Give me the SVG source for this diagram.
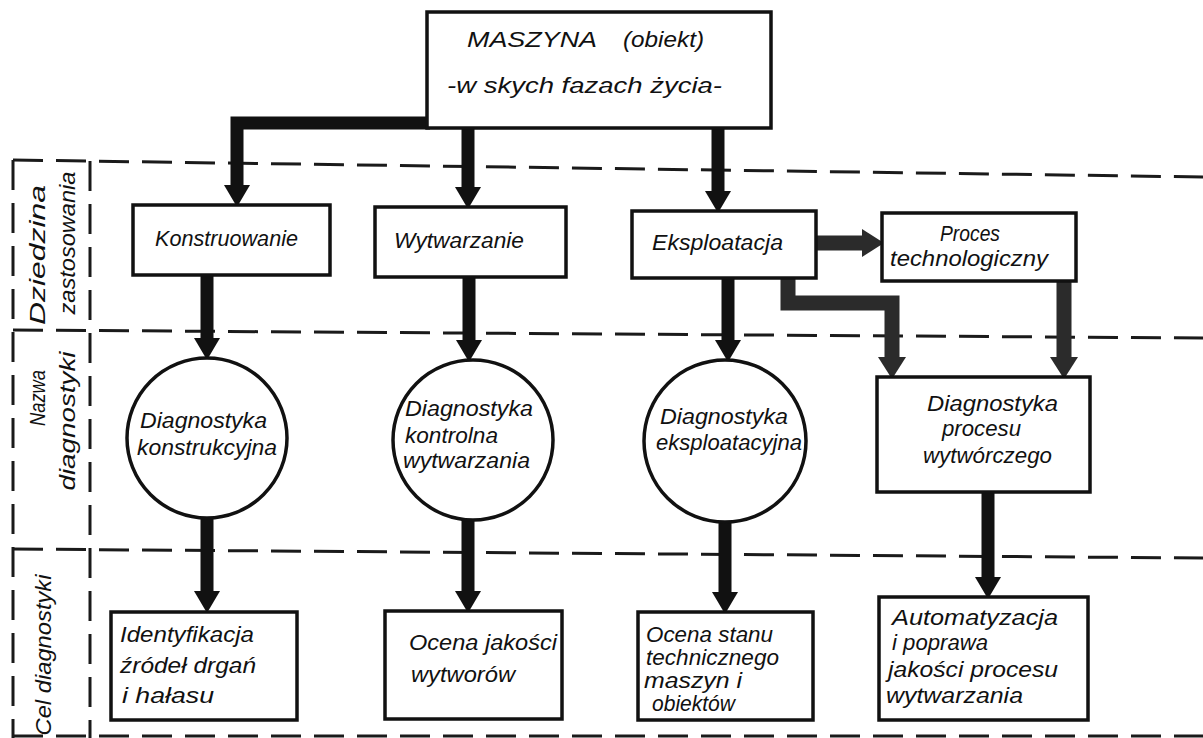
<svg xmlns="http://www.w3.org/2000/svg" width="1203" height="738" viewBox="0 0 1203 738">
<defs>
<style>
.bg{fill:#ffffff}
.box{fill:#ffffff;stroke:#111;stroke-width:3.5}
.dash{fill:none;stroke:#1a1a1a;stroke-width:3;stroke-dasharray:30 13}
.t{font-family:"Liberation Sans","DejaVu Sans",sans-serif;font-style:italic;fill:#111;font-size:22px}
.side{font-family:"Liberation Sans","DejaVu Sans",sans-serif;font-style:italic;fill:#111;font-size:22px;text-anchor:middle;dominant-baseline:central}
.arr{fill:none;stroke:#111;stroke-width:13;stroke-linejoin:miter}
.arr2{fill:none;stroke:#2b2b2b;stroke-width:15;stroke-linejoin:miter}
</style>
<marker id="ah" markerUnits="userSpaceOnUse" markerWidth="22" markerHeight="26" refX="0" refY="13" orient="auto" viewBox="0 0 22 26">
<path d="M0,0 L22,13 L0,26 z" fill="#111"/>
</marker>
<marker id="ah2" markerUnits="userSpaceOnUse" markerWidth="22" markerHeight="28" refX="0" refY="14" orient="auto" viewBox="0 0 22 28">
<path d="M0,0 L22,14 L0,28 z" fill="#2b2b2b"/>
</marker>
</defs>
<rect class="bg" x="0" y="0" width="1203" height="738"/>

<g id="grid">
<line class="dash" x1="13" y1="160" x2="1203" y2="177"/>
<line class="dash" x1="13" y1="330" x2="1203" y2="338"/>
<line class="dash" x1="13" y1="549" x2="1203" y2="558"/>
<line class="dash" x1="13" y1="736" x2="1203" y2="736"/>
<line class="dash" x1="13" y1="160" x2="13" y2="738"/>
<line class="dash" x1="90" y1="161" x2="90" y2="738"/>
</g>

<g id="labels">
<text class="side" transform="translate(37,255) rotate(-90)" textLength="140" lengthAdjust="spacingAndGlyphs">Dziedzina</text>
<text class="side" transform="translate(67,243) rotate(-90)" textLength="143" lengthAdjust="spacingAndGlyphs">zastosowania</text>
<text class="side" transform="translate(37,398) rotate(-90)" textLength="56" lengthAdjust="spacingAndGlyphs">Nazwa</text>
<text class="side" transform="translate(67,421) rotate(-90)" textLength="139" lengthAdjust="spacingAndGlyphs">diagnostyki</text>
<text class="side" transform="translate(43,655) rotate(-90)" textLength="161" lengthAdjust="spacingAndGlyphs">Cel diagnostyki</text>
</g>

<g id="connectors">
<path class="arr" d="M430,123 H237 V185" marker-end="url(#ah)"/>
<path class="arr" d="M468,128 V187" marker-end="url(#ah)"/>
<path class="arr" d="M718,128 V191" marker-end="url(#ah)"/>
<path class="arr2" d="M817,243 H862" marker-end="url(#ah2)"/>
<path class="arr2" d="M788,278 V303 H892 V357" marker-end="url(#ah2)"/>
<path class="arr2" d="M1064,281 V357" marker-end="url(#ah2)"/>
<path class="arr" d="M207,275 V338" marker-end="url(#ah)"/>
<path class="arr" d="M469,277 V340" marker-end="url(#ah)"/>
<path class="arr" d="M728,278 V340" marker-end="url(#ah)"/>
<path class="arr" d="M207,518 V591" marker-end="url(#ah)"/>
<path class="arr" d="M468,520 V591" marker-end="url(#ah)"/>
<path class="arr" d="M725,522 V592" marker-end="url(#ah)"/>
<path class="arr" d="M988,492 V577" marker-end="url(#ah)"/>
</g>

<g id="maszyna">
<rect class="box" x="427" y="12" width="344" height="116"/>
<text class="t" x="467" y="47" font-size="28" textLength="130" lengthAdjust="spacingAndGlyphs">MASZYNA</text>
<text class="t" x="623" y="47" textLength="81" lengthAdjust="spacingAndGlyphs">(obiekt)</text>
<text class="t" x="447" y="93" font-size="24" textLength="275" lengthAdjust="spacingAndGlyphs">-w skych fazach życia-</text>
</g>

<g id="konstruowanie">
<rect class="box" x="133" y="205" width="197" height="70"/>
<text class="t" x="155" y="246" textLength="143" lengthAdjust="spacingAndGlyphs">Konstruowanie</text>
</g>

<g id="wytwarzanie">
<rect class="box" x="375" y="207" width="191" height="70"/>
<text class="t" x="394" y="248" textLength="130" lengthAdjust="spacingAndGlyphs">Wytwarzanie</text>
</g>

<g id="eksploatacja">
<rect class="box" x="632" y="211" width="184" height="67"/>
<text class="t" x="652" y="250" textLength="131" lengthAdjust="spacingAndGlyphs">Eksploatacja</text>
</g>

<g id="proces">
<rect class="box" x="882" y="213" width="194" height="68"/>
<text class="t" x="940" y="241" textLength="60" lengthAdjust="spacingAndGlyphs">Proces</text>
<text class="t" x="890" y="266" textLength="158" lengthAdjust="spacingAndGlyphs">technologiczny</text>
</g>

<g id="diag-konstrukcyjna">
<circle class="box" cx="207" cy="438" r="80"/>
<text class="t" x="140" y="428" textLength="127" lengthAdjust="spacingAndGlyphs">Diagnostyka</text>
<text class="t" x="137" y="455" textLength="140" lengthAdjust="spacingAndGlyphs">konstrukcyjna</text>
</g>

<g id="diag-kontrolna">
<circle class="box" cx="473" cy="440" r="80"/>
<text class="t" x="405" y="416" textLength="128" lengthAdjust="spacingAndGlyphs">Diagnostyka</text>
<text class="t" x="405" y="443" textLength="93" lengthAdjust="spacingAndGlyphs">kontrolna</text>
<text class="t" x="403" y="468" textLength="127" lengthAdjust="spacingAndGlyphs">wytwarzania</text>
</g>

<g id="diag-eksploatacyjna">
<circle class="box" cx="725" cy="441" r="81"/>
<text class="t" x="660" y="424" textLength="128" lengthAdjust="spacingAndGlyphs">Diagnostyka</text>
<text class="t" x="656" y="450" textLength="146" lengthAdjust="spacingAndGlyphs">eksploatacyjna</text>
</g>

<g id="diag-procesu">
<rect class="box" x="877" y="377" width="213" height="115"/>
<text class="t" x="927" y="411" textLength="131" lengthAdjust="spacingAndGlyphs">Diagnostyka</text>
<text class="t" x="942" y="436" textLength="79" lengthAdjust="spacingAndGlyphs">procesu</text>
<text class="t" x="923" y="463" textLength="129" lengthAdjust="spacingAndGlyphs">wytwórczego</text>
</g>

<g id="identyfikacja">
<rect class="box" x="111" y="612" width="186" height="108"/>
<text class="t" x="120" y="642" textLength="134" lengthAdjust="spacingAndGlyphs">Identyfikacja</text>
<text class="t" x="120" y="673" textLength="136" lengthAdjust="spacingAndGlyphs">źródeł drgań</text>
<text class="t" x="122" y="703" textLength="92" lengthAdjust="spacingAndGlyphs">i hałasu</text>
</g>

<g id="ocena-jakosci">
<rect class="box" x="385" y="611" width="177" height="108"/>
<text class="t" x="409" y="650" textLength="148" lengthAdjust="spacingAndGlyphs">Ocena jakości</text>
<text class="t" x="411" y="682" textLength="104" lengthAdjust="spacingAndGlyphs">wytworów</text>
</g>

<g id="ocena-stanu">
<rect class="box" x="638" y="612" width="175" height="108"/>
<text class="t" x="646" y="642" font-size="19" textLength="127" lengthAdjust="spacingAndGlyphs">Ocena stanu</text>
<text class="t" x="646" y="665" font-size="19" textLength="133" lengthAdjust="spacingAndGlyphs">technicznego</text>
<text class="t" x="644" y="688" font-size="19" textLength="98" lengthAdjust="spacingAndGlyphs">maszyn i</text>
<text class="t" x="652" y="711" font-size="19" textLength="83" lengthAdjust="spacingAndGlyphs">obiektów</text>
</g>

<g id="automatyzacja">
<rect class="box" x="879" y="597" width="209" height="123"/>
<text class="t" x="892" y="625" font-size="21" textLength="166" lengthAdjust="spacingAndGlyphs">Automatyzacja</text>
<text class="t" x="892" y="650" font-size="21" textLength="96" lengthAdjust="spacingAndGlyphs">i poprawa</text>
<text class="t" x="888" y="677" font-size="21" textLength="170" lengthAdjust="spacingAndGlyphs">jakości procesu</text>
<text class="t" x="886" y="703" font-size="21" textLength="137" lengthAdjust="spacingAndGlyphs">wytwarzania</text>
</g>
</svg>
